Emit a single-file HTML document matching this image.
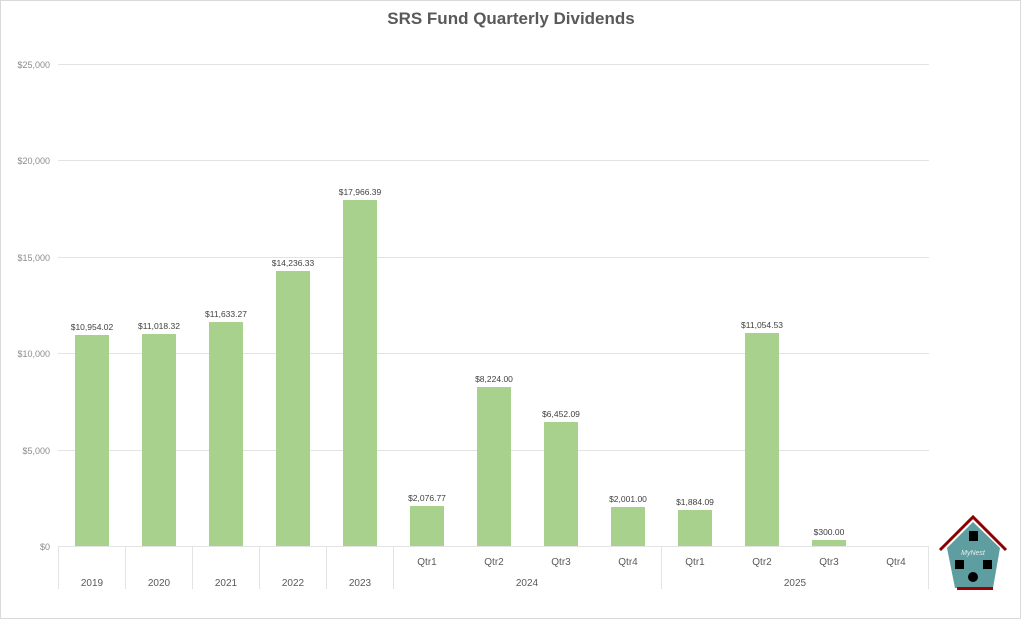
<!DOCTYPE html>
<html><head><meta charset="utf-8"><style>
body{margin:0;background:#fff;}
svg{display:block;font-family:"Liberation Sans",sans-serif;}
</style></head><body>
<svg width="1023" height="621" viewBox="0 0 1023 621">
<rect x="0" y="0" width="1023" height="621" fill="#fff"/>
<rect x="0.5" y="0.5" width="1020" height="618" fill="none" stroke="#d9d9d9"/>
<text x="511" y="24" text-anchor="middle" font-size="17" font-weight="bold" fill="#595959">SRS Fund Quarterly Dividends</text>
<g stroke="#e3e3e3" stroke-width="1">
<line x1="58" y1="64.5" x2="929" y2="64.5"/>
<line x1="58" y1="160.5" x2="929" y2="160.5"/>
<line x1="58" y1="257.5" x2="929" y2="257.5"/>
<line x1="58" y1="353.5" x2="929" y2="353.5"/>
<line x1="58" y1="450.5" x2="929" y2="450.5"/>
<line x1="58" y1="546.5" x2="929" y2="546.5"/>
<line x1="58.5" y1="546" x2="58.5" y2="589"/>
<line x1="125.5" y1="546" x2="125.5" y2="589"/>
<line x1="192.5" y1="546" x2="192.5" y2="589"/>
<line x1="259.5" y1="546" x2="259.5" y2="589"/>
<line x1="326.5" y1="546" x2="326.5" y2="589"/>
<line x1="393.5" y1="546" x2="393.5" y2="589"/>
<line x1="661.5" y1="546" x2="661.5" y2="589"/>
<line x1="928.5" y1="546" x2="928.5" y2="589"/>
</g>
<g font-size="9" fill="#8c8c8c" text-anchor="end">
<text x="50" y="68">$25,000</text><text x="50" y="164">$20,000</text><text x="50" y="261">$15,000</text>
<text x="50" y="357">$10,000</text><text x="50" y="454">$5,000</text><text x="50" y="550">$0</text>
</g>
<g fill="#a9d18e">
<rect x="75" y="335" width="34" height="211"/>
<rect x="142" y="334" width="34" height="212"/>
<rect x="209" y="322" width="34" height="224"/>
<rect x="276" y="271" width="34" height="275"/>
<rect x="343" y="200" width="34" height="346"/>
<rect x="410" y="506" width="34" height="40"/>
<rect x="477" y="387" width="34" height="159"/>
<rect x="544" y="422" width="34" height="124"/>
<rect x="611" y="507" width="34" height="39"/>
<rect x="678" y="510" width="34" height="36"/>
<rect x="745" y="333" width="34" height="213"/>
<rect x="812" y="540" width="34" height="6"/>
</g>
<g font-size="8.5" fill="#404040" text-anchor="middle">
<text x="92" y="330">$10,954.02</text><text x="159" y="329">$11,018.32</text><text x="226" y="317">$11,633.27</text>
<text x="293" y="266">$14,236.33</text><text x="360" y="195">$17,966.39</text><text x="427" y="501">$2,076.77</text>
<text x="494" y="382">$8,224.00</text><text x="561" y="417">$6,452.09</text><text x="628" y="502">$2,001.00</text>
<text x="695" y="505">$1,884.09</text><text x="762" y="328">$11,054.53</text><text x="829" y="535">$300.00</text>
</g>
<g font-size="10" fill="#595959" text-anchor="middle">
<text x="92" y="586">2019</text><text x="159" y="586">2020</text><text x="226" y="586">2021</text>
<text x="293" y="586">2022</text><text x="360" y="586">2023</text>
<text x="427" y="565">Qtr1</text><text x="494" y="565">Qtr2</text><text x="561" y="565">Qtr3</text><text x="628" y="565">Qtr4</text>
<text x="695" y="565">Qtr1</text><text x="762" y="565">Qtr2</text><text x="829" y="565">Qtr3</text><text x="896" y="565">Qtr4</text>
<text x="527" y="586">2024</text><text x="795" y="586">2025</text>
</g>
<!-- house -->
<polygon points="947,548 973,522 1000,548 993,588 955,588" fill="#5f9ea0"/>
<polyline points="940,550 973,517 1006,550" fill="none" stroke="#8b0000" stroke-width="3"/>
<rect x="957" y="587" width="36" height="3" fill="#a00000"/>
<text x="973" y="555" font-size="7" fill="#e8f0f0" text-anchor="middle" font-style="italic">MyNest</text>
<rect x="969" y="531" width="9" height="10" fill="#000"/>
<rect x="955" y="560" width="9" height="9" fill="#000"/>
<rect x="983" y="560" width="9" height="9" fill="#000"/>
<circle cx="973" cy="577" r="5" fill="#000"/>
</svg>
</body></html>
